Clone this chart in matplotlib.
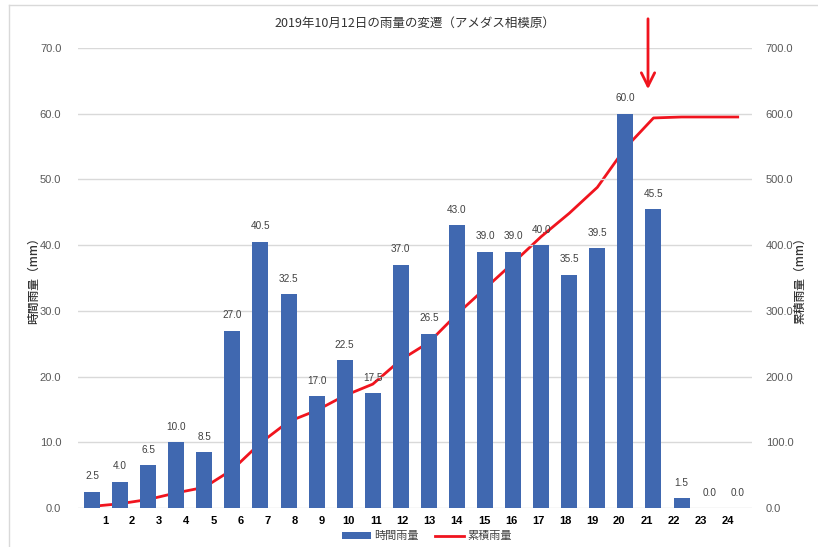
import matplotlib.pyplot as plt
import matplotlib.lines as mlines
from matplotlib.patches import Patch, FancyArrowPatch
import numpy as np

plt.rcParams['font.family'] = ['Liberation Sans', 'Noto Sans CJK JP', 'DejaVu Sans']

hours = [str(h) for h in range(1, 25)]
hourly = [2.5, 4.0, 6.5, 10.0, 8.5, 27.0, 40.5, 32.5, 17.0, 22.5, 17.5, 37.0,
          26.5, 43.0, 39.0, 39.0, 40.0, 35.5, 39.5, 60.0, 45.5, 1.5, 0.0, 0.0]
cumulative = [2.5, 6.5, 13.0, 23.0, 31.5, 58.5, 99.0, 131.5, 148.5, 171.0, 188.5, 225.5,
              252.0, 295.0, 334.0, 373.0, 413.0, 448.5, 488.0, 548.0, 593.5, 595.0, 595.0, 595.0]
title = '2019年10月12日の雨量の変遷（アメダス相模原）'

bar_color = '#4068B0'
line_color = '#F0141E'
grid_color = '#D9D9D9'
text_color = '#595959'
jp = ['Noto Sans CJK JP', 'DejaVu Sans']

fig = plt.figure(figsize=(8.18, 5.47), dpi=100)
ax = fig.add_axes([0.0954, 0.0713, 0.8236, 0.8410])
ax2 = ax.twinx()

x = np.arange(len(hourly))
ax.bar(x, hourly, width=0.57, color=bar_color, zorder=2)
for xi, v in zip(x, hourly):
    ax.annotate(f'{v:.1f}', (xi, v), xytext=(0, 7.5), textcoords='offset points',
                ha='center', va='bottom', fontsize=7.2, color='#404040')

ax2.plot(x, cumulative, color=line_color, lw=2, zorder=3)

ax.set_xlim(-0.5, 23.5)
ax.set_ylim(0, 70)
ax2.set_ylim(0, 700)
ax.set_yticks(np.arange(0, 71, 10))
ax2.set_yticks(np.arange(0, 701, 100))
ax.set_yticklabels([f'{v:.1f}' for v in np.arange(0, 71, 10)])
ax2.set_yticklabels([f'{v:.1f}' for v in np.arange(0, 701, 100)])

# x labels in the original sit a little off the bars
ax.set_xticks(np.linspace(0.46, 22.64, 24))
ax.set_xticklabels(hours, fontsize=8.5, fontweight='bold', color='black')

ax.grid(axis='y', color=grid_color, lw=1, zorder=0)
ax.set_axisbelow(True)
for a in (ax, ax2):
    for s in a.spines.values():
        s.set_visible(False)
    a.tick_params(length=0, labelsize=8, colors=text_color)
ax.tick_params(axis='x', pad=6, colors='black')
ax.tick_params(axis='y', pad=12)
ax2.tick_params(axis='y', pad=10)
ax.set_zorder(ax2.get_zorder() + 1)
ax.patch.set_visible(False)
ax2.set_zorder(0)

ax.set_ylabel('時間雨量（mm）', family=jp, fontsize=8.5, color='#333333',
              fontweight='medium', labelpad=0)
ax2.set_ylabel('累積雨量（mm）', family=jp, fontsize=8.5, color='#333333',
               fontweight='medium', labelpad=0)
ax.set_title(title, family=jp, fontsize=9, color='#333333', pad=15)

handles = [Patch(facecolor=bar_color, label='時間雨量'),
           mlines.Line2D([], [], color=line_color, lw=2, label='累積雨量')]
fig.legend(handles=handles, loc='lower center', bbox_to_anchor=(0.522, -0.008), ncol=2,
           frameon=False, prop={'family': jp, 'size': 8}, handlelength=2.6,
           handleheight=0.55, handletextpad=0.3, columnspacing=1.5, labelcolor='#404040')

# arrow pointing at the peak hour
fig.patches.append(FancyArrowPatch((648 / 818, 1 - 16 / 547), (648 / 818, 1 - 92 / 547),
                                   transform=fig.transFigure, arrowstyle='->,head_length=6,head_width=3',
                                   color=line_color, lw=2, mutation_scale=1.6))

# chart frame (left and top only)
fig.add_artist(mlines.Line2D([9 / 818, 9 / 818], [0, 1 - 5 / 547], transform=fig.transFigure,
                             color='#D9D9D9', lw=1))
fig.add_artist(mlines.Line2D([9 / 818, 1], [1 - 5 / 547, 1 - 5 / 547], transform=fig.transFigure,
                             color='#D9D9D9', lw=1))

fig.savefig('out.png', dpi=100)
